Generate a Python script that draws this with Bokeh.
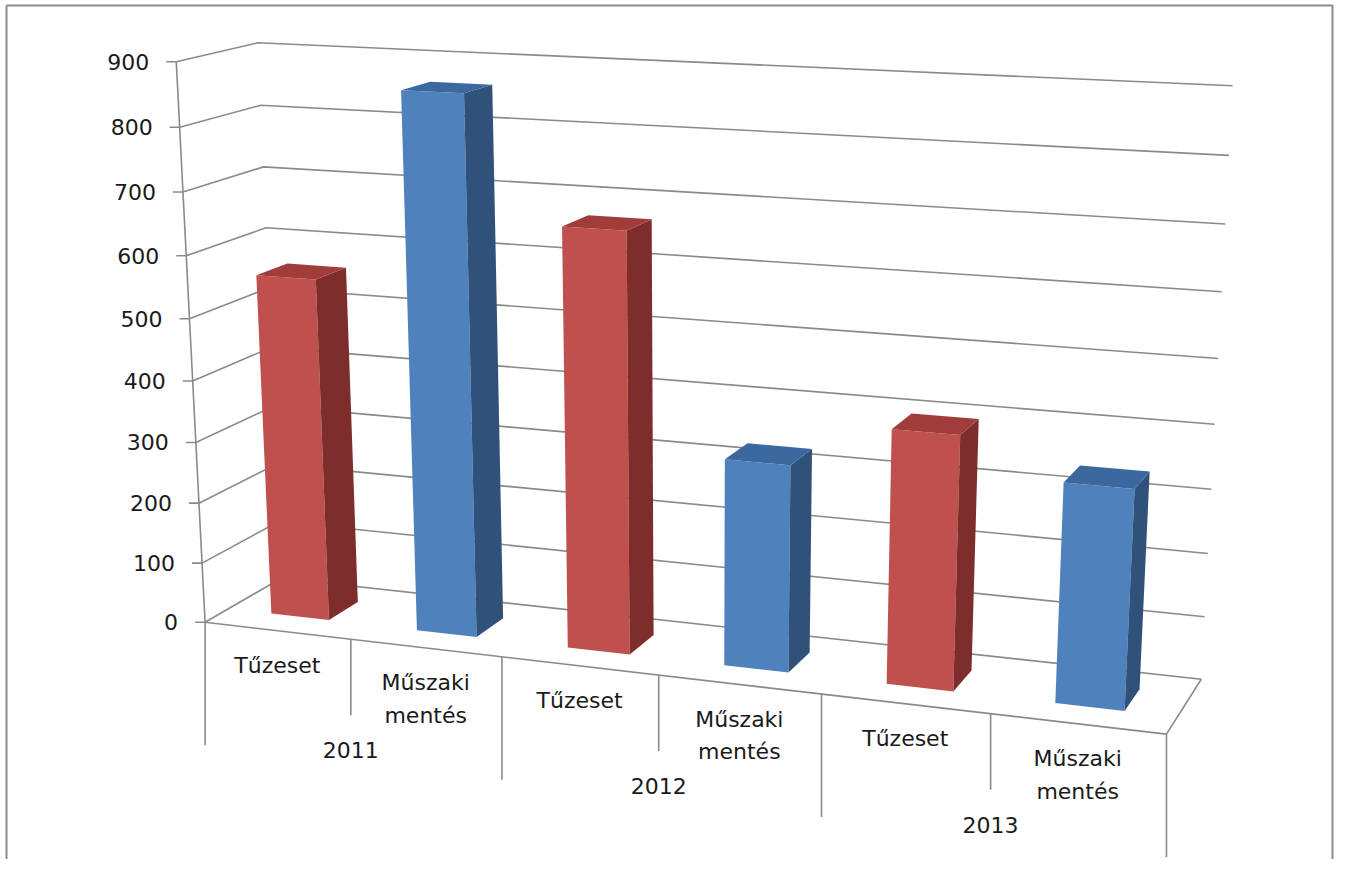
import numpy as np
from bokeh.plotting import figure
from bokeh.models import Range1d
from bokeh.embed import file_html
from bokeh.resources import INLINE
from bokeh.core.properties import value

# ---------------- data ----------------
years = ["2011", "2012", "2013"]
categories = ["Tűzeset", "Műszaki\nmentés"]
tuzeset = [560, 669, 398]
muszaki_mentes = [862, 329, 340]
value_ticks = [0, 100, 200, 300, 400, 500, 600, 700, 800, 900]

# ---------------- styles ----------------
FONT = "DejaVu Sans"
FONT_SIZE = "22px"
TEXT_COLOR = "#1a1a1a"
GRID_COLOR = "#8a8a8a"
FACE_COLORS = [("#C0504D", "#7D2E2C", "#A03D3A"),   # front, side, top
               ("#4F81BD", "#30527A", "#3C68A0")]

W, H = 1334, 859
OFF = 1  # data coordinate of the canvas' top-left pixel

# ---------------- 3D frame calibration (frame anchors, px) ----------------
# (category X, depth Y, value Z) -> (u, v)
ANCHORS = [
    (0, 0, 900, 178, 62), (0, 0, 800, 181, 127), (0, 0, 700, 183, 192), (0, 0, 600, 186, 256),
    (0, 0, 300, 195, 443), (0, 0, 200, 198, 504), (0, 0, 100, 202, 563), (0, 0, 0, 207, 622),
    (0, 1, 900, 258, 44), (0, 1, 800, 262, 107), (0, 1, 700, 263, 167), (0, 1, 600, 266, 229),
    (6, 1, 900, 1233, 87), (6, 1, 800, 1229, 156), (6, 1, 700, 1226, 224), (6, 1, 600, 1222, 292),
    (6, 1, 400, 1217, 424), (6, 1, 300, 1212, 489), (6, 1, 200, 1209, 553), (6, 1, 100, 1206, 617),
    (6, 1, 0, 1200, 680),
    (1, 0, 0, 353, 640), (2, 0, 0, 503, 657), (3, 0, 0, 660, 674), (4, 0, 0, 823, 697),
    (5, 0, 0, 989, 717), (6, 0, 0, 1166, 734),
]
ZS, PS = 150.0, 200.0


def fit_camera(anchors):
    rows = []
    for X, Y, Z, u, v in anchors:
        Zn, un, vn = Z / ZS, u / PS, v / PS
        rows.append([X, Y, Zn, 1, 0, 0, 0, 0, -un * X, -un * Y, -un * Zn, -un])
        rows.append([0, 0, 0, 0, X, Y, Zn, 1, -vn * X, -vn * Y, -vn * Zn, -vn])
    _, _, vt = np.linalg.svd(np.array(rows, float))
    return vt[-1].reshape(3, 4)


P = fit_camera(ANCHORS)


def proj(X, Y, Z):
    h = P @ np.array([X, Y, Z / ZS, 1.0])
    return float(h[0] / h[2] * PS), float(h[1] / h[2] * PS)


# ---------------- figure ----------------
p = figure(width=W, height=H, output_backend="svg", toolbar_location=None,
           x_range=Range1d(OFF, OFF + W), y_range=Range1d(OFF + H, OFF),
           min_border=0)
p.axis.visible = False
p.grid.visible = False
p.outline_line_color = None
p.background_fill_color = "white"
p.border_fill_color = "white"

ZMAX = value_ticks[-1]
NCAT = len(years) * len(categories)

# chart border (bottom edge lies outside the view)
bl, bt, br, bb = 7, 6, OFF + W - 2, OFF + H + 5
p.line([bl, bl, br, br], [bb, bt, bt, bb], line_color="#8c8c8c", line_width=2)

# gridlines on left wall and back wall
gx, gy = [], []
for t in value_ticks:
    pts = [proj(0, 0, t), proj(0, 1, t), proj(NCAT, 1, t)]
    gx.append([q[0] for q in pts])
    gy.append([q[1] for q in pts])
p.multi_line(gx, gy, line_color=GRID_COLOR, line_width=1.6)

# vertical axis + ticks
a0, a1 = proj(0, 0, 0), proj(0, 0, ZMAX)
p.line([a0[0], a1[0]], [a0[1], a1[1]], line_color=GRID_COLOR, line_width=1.6)
tx, ty = [], []
for t in value_ticks:
    u, v = proj(0, 0, t)
    tx.append([u - 10, u])
    ty.append([v, v])
p.multi_line(tx, ty, line_color=GRID_COLOR, line_width=1.6)

# floor edges
f = [proj(0, 0, 0), proj(NCAT, 0, 0), proj(NCAT, 1, 0)]
p.line([q[0] for q in f], [q[1] for q in f], line_color=GRID_COLOR, line_width=1.6)

# category dividers
dx, dy = [], []
for k in range(NCAT + 1):
    u, v = proj(k, 0, 0)
    L = 123 if k % 2 == 0 else 76
    dx.append([u, u])
    dy.append([v, v + L])
p.multi_line(dx, dy, line_color=GRID_COLOR, line_width=1.6)

# tick labels
lx, ly = [], []
for t in value_ticks:
    u, v = proj(0, 0, t)
    lx.append(u - 27)
    ly.append(v)
p.text(lx, ly, text=[str(t) for t in value_ticks], text_align="right", text_baseline="middle",
       text_font=value(FONT), text_font_size=FONT_SIZE, text_color=TEXT_COLOR)

# category labels
cx, cy, ct = [], [], []
for g in range(len(years)):
    for j, cat in enumerate(categories):
        k = g * len(categories) + j
        u, v = proj(k + 0.5, 0, 0)
        cx.append(u)
        cy.append(v + (35 if "\n" not in cat else 51))
        ct.append(cat)
p.text(cx, cy, text=ct, text_align="center", text_baseline="middle", text_line_height=1.3,
       text_font=value(FONT), text_font_size=FONT_SIZE, text_color=TEXT_COLOR)

# year labels
yx, yy = [], []
for g in range(len(years)):
    u, v = proj(g * 2 + 1, 0, 0)
    yx.append(u)
    yy.append(v + 111)
p.text(yx, yy, text=years, text_align="center", text_baseline="middle",
       text_font=value(FONT), text_font_size=FONT_SIZE, text_color=TEXT_COLOR)

# bars (front, right side, top faces)
series = [tuzeset, muszaki_mentes]
for g in range(len(years)):
    for j in range(len(categories)):
        k = g * len(categories) + j
        val = series[j][g]
        x0, x1, y0, y1 = k + 0.3, k + 0.7, 0.3, 0.7
        front = [proj(x0, y0, 0), proj(x1, y0, 0), proj(x1, y0, val), proj(x0, y0, val)]
        side = [proj(x1, y0, 0), proj(x1, y1, 0), proj(x1, y1, val), proj(x1, y0, val)]
        top = [proj(x0, y0, val), proj(x1, y0, val), proj(x1, y1, val), proj(x0, y1, val)]
        cf, cs, ctop = FACE_COLORS[j]
        for face, col in ((front, cf), (side, cs), (top, ctop)):
            p.patch([q[0] for q in face], [q[1] for q in face], fill_color=col, line_color=None)

open("out.html", "w").write(file_html(p, INLINE))
